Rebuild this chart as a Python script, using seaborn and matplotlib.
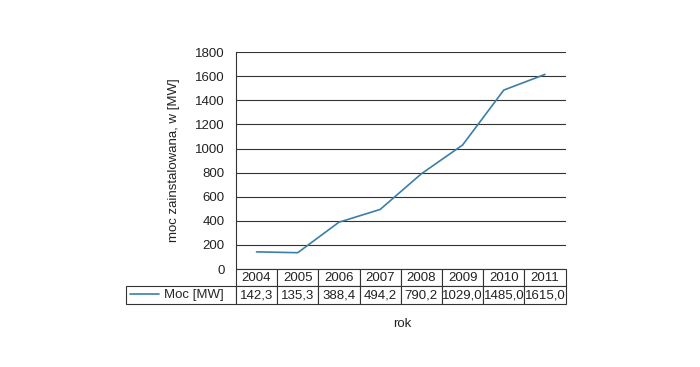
import pandas as pd
import matplotlib
matplotlib.use('Agg')
import matplotlib.pyplot as plt
import seaborn as sns

years = ['2004', '2005', '2006', '2007', '2008', '2009', '2010', '2011']
moc = [142.3, 135.3, 388.4, 494.2, 790.2, 1029.0, 1485.0, 1615.0]
series_name = 'Moc [MW]'
y_ticks = [0, 200, 400, 600, 800, 1000, 1200, 1400, 1600, 1800]

sns.set_style('white')
plt.rcParams['font.family'] = ['Liberation Sans', 'DejaVu Sans']

df = pd.DataFrame({'rok': years, 'moc': moc})

fig = plt.figure(figsize=(7, 3.67), dpi=100)
ax = fig.add_axes([0.337, 0.267, 0.471, 0.591])

sns.lineplot(data=df, x='rok', y='moc', ax=ax, color='#3b7fa6', linewidth=1.2,
             label=series_name)

ax.set_xlim(-0.5, len(years) - 0.5)
ax.set_ylim(0, 1800)
ax.set_yticks(y_ticks)
ax.set_yticklabels([str(t) for t in y_ticks], fontsize=9.5, color='#222222')
ax.tick_params(axis='y', length=4, width=0.8, color='#333333', pad=4)
ax.set_xticks([])
ax.grid(axis='y', color='#333333', linewidth=0.8)
ax.set_axisbelow(True)
for s in ['top', 'right', 'bottom']:
    ax.spines[s].set_visible(False)
ax.spines['left'].set_color('#333333')
ax.spines['left'].set_linewidth(0.8)

ax.set_ylabel('moc zainstalowana, w [MW]', fontsize=9.5, color='#222222')
ax.yaxis.set_label_coords(-0.17, 0.5)
ax.set_xlabel('rok', fontsize=9.5, color='#222222')
ax.xaxis.set_label_coords(0.506, -0.226)

# data table under the plot
label_w = 110 / 330
vals = [f'{v:.1f}'.replace('.', ',') for v in moc]
tbl = ax.table(cellText=[[''] + vals], colLabels=[''] + years,
               colWidths=[label_w] + [1 / len(years)] * len(years),
               cellLoc='center', bbox=[-label_w, -0.161, 1 + label_w, 0.161])
tbl.auto_set_font_size(False)
tbl.set_fontsize(9.5)
for (r, c), cell in tbl.get_celld().items():
    cell.set_edgecolor('#333333')
    cell.set_linewidth(0.8)
    cell.get_text().set_color('#222222')
    cell.PAD = 0.02
tbl[0, 0].visible_edges = ''

# legend key sits inside the row label cell
ax.legend(loc='center left', bbox_to_anchor=(-label_w - 0.003, -0.121),
          frameon=False, fontsize=9.5, handlelength=2.2, handletextpad=0.35,
          borderaxespad=0)

fig.savefig('out.png', dpi=100)
